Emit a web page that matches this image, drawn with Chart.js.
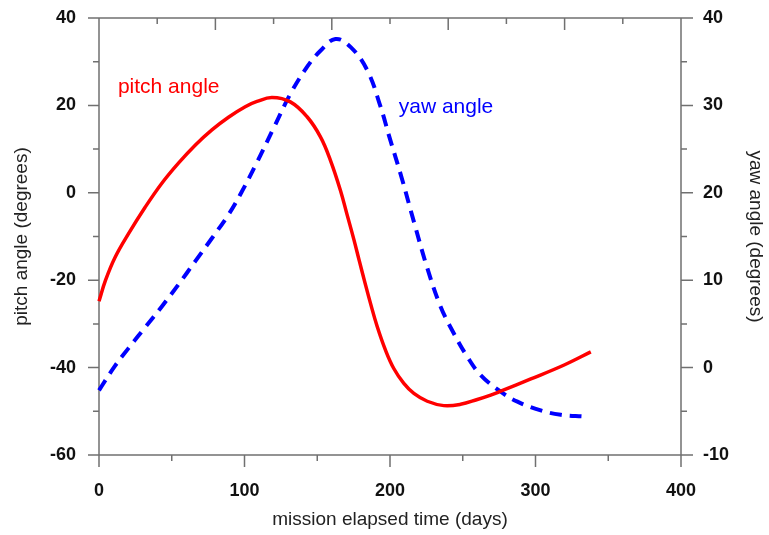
<!DOCTYPE html>
<html><head><meta charset="utf-8">
<script src="https://cdn.jsdelivr.net/npm/chart.js@4"></script>
<style>html,body{margin:0;padding:0;background:#fff}#wrap{width:769px;height:535px}</style>
</head><body><div id="wrap"><canvas id="c" width="769" height="535"></canvas></div>
<script>
// ---- data ----
const pitchDays   = [0, 4.5, 11.0, 20.2, 31.7, 43.2, 54.6, 66.1, 77.6, 89.0, 100.5, 108.6, 118.9, 131.5, 143.0, 152.2, 159.0, 165.9, 170.5, 175.1, 179.0, 182.5, 186.6, 191.2, 196.9, 202.6, 209.5, 216.4, 225.6, 237.0, 248.5, 260.0, 269.2, 276.1, 296.8, 319.7, 338.0];
const pitchValues = [-24.8, -20.0, -14.8, -9.4, -3.3, 2.2, 6.8, 10.9, 14.4, 17.3, 19.7, 20.9, 21.8, 20.8, 17.4, 12.8, 7.5, 0.6, -5.0, -10.6, -15.7, -20.2, -25.3, -30.6, -36.0, -40.2, -43.6, -45.9, -47.7, -48.7, -48.4, -47.3, -46.3, -45.4, -42.6, -39.4, -36.4];
const yawDays     = [0, 11.0, 20.2, 31.7, 43.2, 54.6, 66.1, 77.6, 89.0, 97.1, 108.6, 120.0, 131.5, 143.0, 152.2, 162.5, 172.8, 184.3, 193.5, 199.2, 208.4, 216.4, 225.6, 234.8, 243.9, 253.1, 262.3, 276.1, 287.6, 303.6, 317.4, 333.4];
const yawValues   = [-2.6, 0.2, 2.2, 4.6, 7.0, 9.5, 12.15, 14.8, 17.5, 19.8, 23.5, 27.4, 31.3, 34.4, 36.25, 37.6, 36.7, 34.05, 29.85, 26.6, 21.5, 16.7, 11.4, 6.97, 3.9, 1.25, -0.85, -2.76, -3.9, -4.9, -5.4, -5.6];
const xTickValues     = [0, 100, 200, 300, 400];
const pitchTickValues = [-60, -40, -20, 0, 20, 40];
const yawTickValues   = [-10, 0, 10, 20, 30, 40];
const topTickValues   = [0, 40, 80, 120, 160, 200, 240, 280, 320, 360, 400];

const seriesNames = ['pitch angle', 'yaw angle'];

const pts = (xs, ys) => xs.map((d, i) => ({x: d, y: ys[i]}));
const mids = arr => arr.slice(1).map((v, i) => (v + arr[i]) / 2);

const FONT = "'Liberation Sans', Arial, sans-serif";
const AXIS = '#707070';

const axesPlugin = {
  id: 'axesPlugin',
  beforeDatasetsDraw(chart) {
    const {ctx, chartArea: a, scales: {x, y, y2}} = chart;
    ctx.save();
    ctx.strokeStyle = AXIS;
    ctx.lineWidth = 1.5;
    ctx.beginPath();
    ctx.moveTo(a.left, a.top); ctx.lineTo(a.left, a.bottom);
    ctx.moveTo(a.right, a.top); ctx.lineTo(a.right, a.bottom);
    ctx.moveTo(a.left, a.top); ctx.lineTo(a.right, a.top);
    ctx.moveTo(a.left, a.bottom); ctx.lineTo(a.right, a.bottom);
    pitchTickValues.forEach(v => { const p = y.getPixelForValue(v); ctx.moveTo(a.left - 11, p); ctx.lineTo(a.left, p); });
    mids(pitchTickValues).forEach(v => { const p = y.getPixelForValue(v); ctx.moveTo(a.left - 6, p); ctx.lineTo(a.left, p); });
    yawTickValues.forEach(v => { const p = y2.getPixelForValue(v); ctx.moveTo(a.right, p); ctx.lineTo(a.right + 12, p); });
    mids(yawTickValues).forEach(v => { const p = y2.getPixelForValue(v); ctx.moveTo(a.right, p); ctx.lineTo(a.right + 6, p); });
    xTickValues.forEach(v => { const p = x.getPixelForValue(v); ctx.moveTo(p, a.bottom); ctx.lineTo(p, a.bottom + 12); });
    mids(xTickValues).forEach(v => { const p = x.getPixelForValue(v); ctx.moveTo(p, a.bottom); ctx.lineTo(p, a.bottom + 6); });
    topTickValues.forEach((v, i) => { const p = x.getPixelForValue(v); ctx.moveTo(p, a.top); ctx.lineTo(p, a.top + (i % 2 === 0 ? 12 : 6)); });
    ctx.stroke();
    ctx.restore();
  },
  afterDatasetsDraw(chart, args, opts) {
    const {ctx, scales} = chart;
    ctx.save();
    ctx.font = "21px " + FONT;
    ctx.textAlign = 'left';
    ctx.textBaseline = 'middle';
    opts.labels.forEach(l => {
      ctx.fillStyle = l.color;
      ctx.fillText(l.text, scales.x.getPixelForValue(l.x), scales[l.axis].getPixelForValue(l.y));
    });
    ctx.restore();
  }
};

const tickFont = {family: FONT, size: 18, weight: 'bold'};
const titleFont = {family: FONT, size: 19};
const noPad = s => { s.paddingTop = 0; s.paddingBottom = 0; s.paddingLeft = 0; s.paddingRight = 0; };

new Chart(document.getElementById('c'), {
  type: 'line',
  data: {
    datasets: [
      {label: seriesNames[0], data: pts(pitchDays, pitchValues), yAxisID: 'y', borderColor: '#ff0000', borderWidth: 3.5,
       pointRadius: 0, tension: 0.4, fill: false, clip: false},
      {label: seriesNames[1], data: pts(yawDays, yawValues), yAxisID: 'y2', borderColor: '#0000ff', borderWidth: 4,
       borderDash: [12, 8], pointRadius: 0, tension: 0.4, fill: false, clip: false}
    ]
  },
  options: {
    responsive: false,
    animation: false,
    devicePixelRatio: 1,
    layout: {padding: {top: 18, left: 0, right: 0, bottom: 0}},
    plugins: {
      legend: {display: false},
      tooltip: {enabled: false},
      axesPlugin: {labels: [
        {text: seriesNames[0], x: 13, y: 24.1, axis: 'y', color: '#ff0000'},
        {text: seriesNames[1], x: 206, y: 29.75, axis: 'y2', color: '#0000ff'}
      ]}
    },
    scales: {
      x: {
        type: 'linear', position: 'bottom', min: 0, max: 400,
        afterBuildTicks: s => { s.ticks = xTickValues.map(v => ({value: v})); },
        afterFit: s => { s.height = 80; noPad(s); },
        grid: {display: false, drawTicks: false}, border: {display: false},
        ticks: {font: tickFont, color: '#111', padding: 25, maxRotation: 0, autoSkip: false},
        title: {display: true, text: 'mission elapsed time (days)', font: titleFont, color: '#222', padding: {top: 0, bottom: 4}}
      },
      y: {
        type: 'linear', position: 'left', min: -60, max: 40,
        afterBuildTicks: s => { s.ticks = pitchTickValues.map(v => ({value: v})); },
        afterFit: s => { s.width = 99; noPad(s); },
        grid: {display: false, drawTicks: false}, border: {display: false},
        ticks: {font: tickFont, color: '#111', padding: 23, autoSkip: false},
        title: {display: true, text: 'pitch angle (degrees)', font: titleFont, color: '#222', padding: {top: 10, bottom: 0}}
      },
      y2: {
        type: 'linear', position: 'right', min: -10, max: 40,
        afterBuildTicks: s => { s.ticks = yawTickValues.map(v => ({value: v})); },
        afterFit: s => { s.width = 88; noPad(s); },
        grid: {display: false, drawTicks: false}, border: {display: false},
        ticks: {font: tickFont, color: '#111', padding: 22, autoSkip: false},
        title: {display: true, text: 'yaw angle (degrees)', font: titleFont, color: '#222', padding: {top: 2, bottom: 0}}
      }
    }
  },
  plugins: [axesPlugin]
});
</script>
</body></html>
